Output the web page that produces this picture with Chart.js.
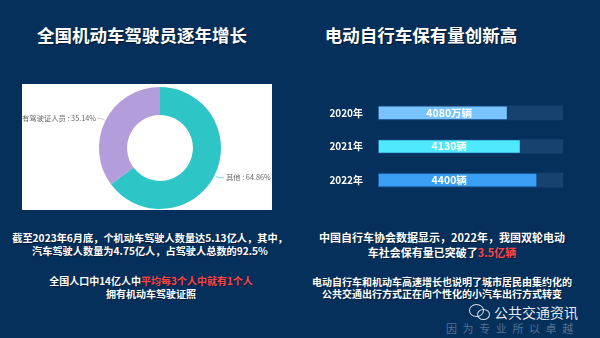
<!DOCTYPE html>
<html>
<head>
<meta charset="utf-8">
<script src="https://cdn.jsdelivr.net/npm/chart.js@4"></script>
<style>
  html, body { margin: 0; padding: 0; }
  body {
    width: 600px; height: 338px; overflow: hidden; position: relative;
    background: #06305c;
    font-family: "Noto Sans CJK SC", "Noto Sans", sans-serif;
    color: #fff;
  }
  .title {
    position: absolute; top: 23px; font-size: 17.5px; font-weight: bold;
    line-height: 24px; text-align: center; text-shadow: 1px 1px 1px rgba(0,0,0,0.5);
  }
  .txt {
    position: absolute; text-align: center; font-weight: bold;
    text-shadow: 1px 1px 1px rgba(0,0,0,0.4); white-space: nowrap;
  }
  .red { color: #ff4747; }
  #panel { position: absolute; left: 22px; top: 84px; width: 250px; height: 126px; background: #fff; }
  #panel canvas { position: absolute; left: 0; top: 0; }
  /* tick padding (7) + half label height (6) is added above and below the chart area */
  #barBox { position: absolute; left: 300px; top: 83px; width: 263px; height: 127px; }
  .wm1 { position: absolute; left: 494px; top: 303px; font-size: 14px; line-height: 18px; color: rgba(255,255,255,0.92); }
  .wm2 { position: absolute; left: 446px; top: 321px; font-size: 11px; line-height: 14px; letter-spacing: 5.6px; color: rgba(150,170,200,0.55); }
  .bubble { position: absolute; border: 1.5px solid rgba(255,255,255,0.85); border-radius: 50%; }
</style>
</head>
<body>
<div class="title" style="left:0;width:284px;">全国机动车驾驶员逐年增长</div>
<div class="title" style="left:300px;width:242px;">电动自行车保有量创新高</div>

<div id="panel"><canvas id="pieChart" width="250" height="126"></canvas></div>
<div id="barBox"><canvas id="barChart" width="263" height="127"></canvas></div>

<div class="txt" style="left:0;width:300px;top:231px;font-size:10.2px;line-height:13px;">
  截至2023年6月底，个机动车驾驶人数量达5.13亿人，其中，<br>汽车驾驶人数量为4.75亿人，占驾驶人总数的92.5%
</div>
<div class="txt" style="left:0;width:302px;top:275px;font-size:10px;line-height:12.5px;">
  全国人口中14亿人中<span class="red">平均每3个人中就有1个人</span><br>拥有机动车驾驶证照
</div>
<div class="txt" style="left:300px;width:284px;top:230px;font-size:11px;line-height:15px;">
  中国自行车协会数据显示，2022年，我国双轮电动<br>车社会保有量已突破了<span class="red">3.5亿辆</span>
</div>
<div class="txt" style="left:300px;width:284px;top:275.5px;font-size:10px;line-height:12.5px;">
  电动自行车和机动车高速增长也说明了城市居民由集约化的<br>公共交通出行方式正在向个性化的小汽车出行方式转变
</div>

<div class="bubble" style="left:469px;top:304px;width:13px;height:11px;"></div>
<div class="bubble" style="left:477px;top:309px;width:11px;height:9px;"></div>
<div class="wm1">公共交通资讯</div>
<div class="wm2">因为专业所以卓越</div>

<script>
// donut data
const pieLabels = ['其他', '有驾驶证人员'];
const pieValues = [64.86, 35.14];
const pieColors = ['#2ec5c7', '#b39ddb'];

// bar data
const years = ['2020年', '2021年', '2022年'];
const barLevels = [70, 77, 86]; // bar length in % of the track
const barTexts = ['4080万辆', '4130辆', '4400辆'];
const barColors = ['#79c4ff', '#4ee9fc', '#3ba0f3'];
const trackMax = 100;

const sliceLabels = {
  id: 'sliceLabels',
  afterDatasetsDraw(chart) {
    const { ctx } = chart;
    const meta = chart.getDatasetMeta(0);
    ctx.save();
    ctx.font = '7.3px "Noto Sans CJK SC", sans-serif';
    ctx.textBaseline = 'middle';
    meta.data.forEach((arc, i) => {
      const mid = (arc.startAngle + arc.endAngle) / 2;
      const r = arc.outerRadius;
      const cx = Math.cos(mid), cy = Math.sin(mid);
      const x0 = arc.x + cx * (r + 1), y0 = arc.y + cy * (r + 1);
      const x1 = arc.x + cx * (r + 5), y1 = arc.y + cy * (r + 5);
      const right = cx >= 0;
      const x2 = x1 + (right ? 5 : -4);
      ctx.strokeStyle = pieColors[i];
      ctx.globalAlpha = 0.6;
      ctx.lineWidth = 1;
      ctx.beginPath();
      ctx.moveTo(x0, y0);
      ctx.lineTo(x1, y1);
      ctx.lineTo(x2, y1);
      ctx.stroke();
      ctx.globalAlpha = 1;
      ctx.fillStyle = '#666';
      ctx.textAlign = right ? 'left' : 'right';
      ctx.fillText(pieLabels[i] + ' : ' + pieValues[i].toFixed(2) + '%', x2 + (right ? 2 : -1), y1);
    });
    ctx.restore();
  }
};

new Chart(document.getElementById('pieChart'), {
  type: 'doughnut',
  data: {
    labels: pieLabels,
    datasets: [{
      data: pieValues,
      backgroundColor: pieColors,
      borderWidth: 0,
      hoverOffset: 0
    }]
  },
  options: {
    responsive: false,
    animation: false,
    cutout: '54%',
    layout: { padding: { left: 26, right: 0, top: 3, bottom: 1 } },
    plugins: { legend: { display: false }, tooltip: { enabled: false } }
  },
  plugins: [sliceLabels]
});

const barLabels = {
  id: 'barLabels',
  afterDatasetsDraw(chart) {
    const { ctx } = chart;
    const xScale = chart.scales.x;
    const meta = chart.getDatasetMeta(0);
    ctx.save();
    ctx.font = 'bold 10.5px "Noto Sans CJK SC", sans-serif';
    ctx.fillStyle = '#fff';
    ctx.textAlign = 'center';
    ctx.textBaseline = 'middle';
    meta.data.forEach((bar, i) => {
      ctx.fillText(barTexts[i], xScale.getPixelForValue(38.5), bar.y);
    });
    ctx.restore();
  }
};

new Chart(document.getElementById('barChart'), {
  type: 'bar',
  data: {
    labels: years,
    datasets: [
      {
        data: barLevels,
        backgroundColor: barColors,
        borderColor: '#0d3f78',
        borderWidth: 1,
        borderSkipped: false,
        barThickness: 14,
        grouped: false
      },
      {
        data: years.map(() => trackMax),
        backgroundColor: '#17416e',
        borderWidth: 0,
        barThickness: 14,
        grouped: false
      }
    ]
  },
  options: {
    indexAxis: 'y',
    responsive: false,
    animation: false,
    layout: { padding: 0 },
    scales: {
      x: { display: false, min: 0, max: trackMax },
      y: {
        grid: { display: false },
        border: { display: false },
        ticks: {
          color: '#fff',
          padding: 7,
          font: { family: '"Noto Sans CJK SC", sans-serif', size: 10, weight: 'bold' }
        },
        afterFit(scale) { scale.width = 78; }
      }
    },
    plugins: { legend: { display: false }, tooltip: { enabled: false } }
  },
  plugins: [barLabels]
});
</script>
</body>
</html>
